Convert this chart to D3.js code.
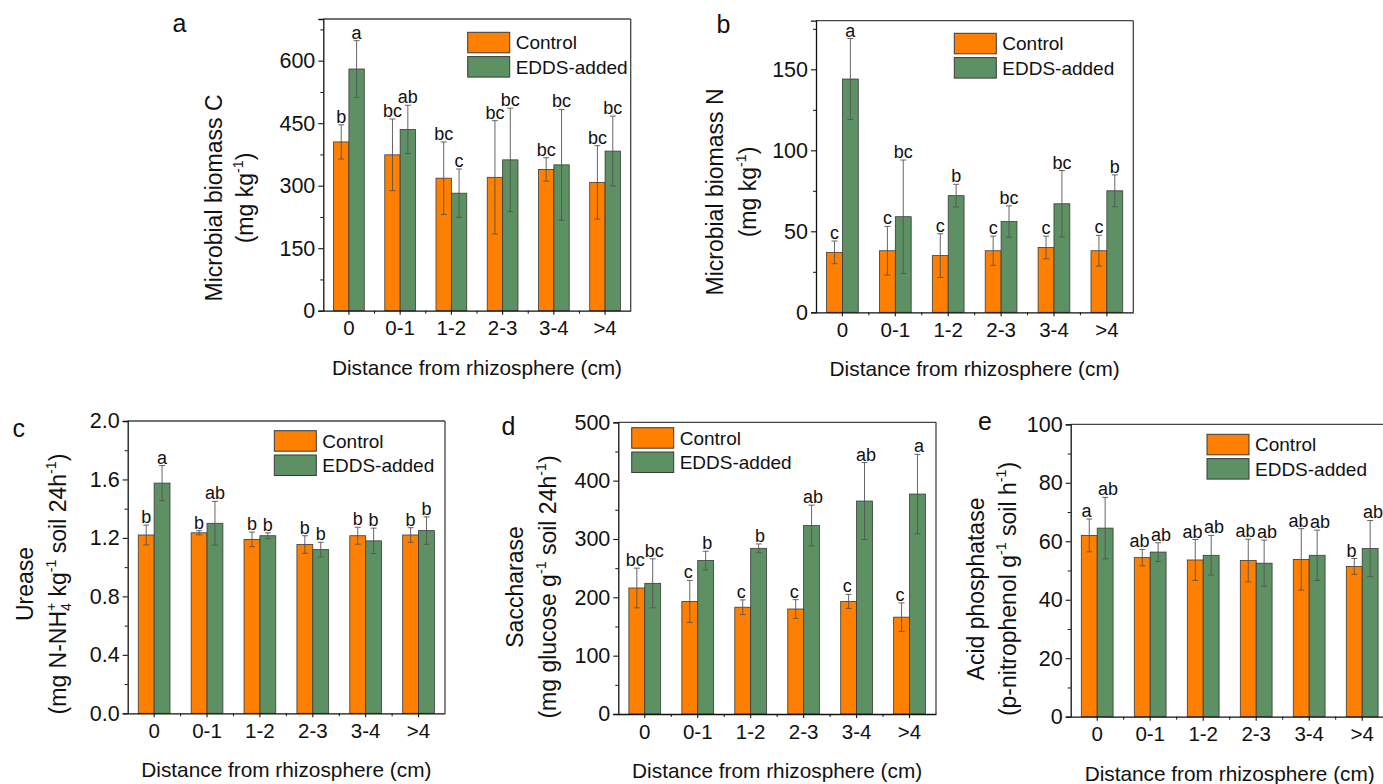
<!DOCTYPE html>
<html>
<head>
<meta charset="utf-8">
<script src="https://cdn.jsdelivr.net/npm/d3@7"></script>
<style>
  html, body { margin: 0; padding: 0; background: #fff; }
  svg { display: block; font-family: "Liberation Sans", Arial, sans-serif; }
</style>
</head>
<body>
<svg id="chart" width="1383" height="784"></svg>
<script>
// ---------- data ----------
const categories = ["0", "0-1", "1-2", "2-3", "3-4", ">4"];
const seriesNames = ["Control", "EDDS-added"];

// a: Microbial biomass C
const mbcControl    = [405, 374, 318, 320, 339, 308];
const mbcControlErr = [41, 86, 87, 136, 28, 88];
const mbcEdds       = [580, 435, 282, 362, 350, 383];
const mbcEddsErr    = [68, 58, 58, 124, 133, 84];
const mbcControlLetters = ["b", "bc", "bc", "bc", "bc", "bc"];
const mbcEddsLetters    = ["a", "ab", "c", "bc", "bc", "bc"];
const mbcTicks = [0, 150, 300, 450, 600];

// b: Microbial biomass N
const mbnControl    = [37, 38, 35, 38, 40, 38];
const mbnControlErr = [7, 15, 13.5, 9, 7, 9.5];
const mbnEdds       = [144, 59, 72, 56, 67, 75];
const mbnEddsErr    = [25, 35, 7, 9.7, 20.5, 9.8];
const mbnControlLetters = ["c", "c", "c", "c", "c", "c"];
const mbnEddsLetters    = ["a", "bc", "b", "bc", "bc", "b"];
const mbnTicks = [0, 50, 100, 150];

// c: Urease
const ureControl    = [1.22, 1.235, 1.19, 1.155, 1.215, 1.22];
const ureControlErr = [0.068, 0.014, 0.05, 0.06, 0.058, 0.05];
const ureEdds       = [1.575, 1.30, 1.215, 1.12, 1.18, 1.25];
const ureEddsErr    = [0.12, 0.15, 0.02, 0.05, 0.087, 0.094];
const ureControlLetters = ["b", "b", "b", "b", "b", "b"];
const ureEddsLetters    = ["a", "ab", "b", "b", "b", "b"];
const ureTicks = [0, 0.4, 0.8, 1.2, 1.6, 2.0];

// d: Saccharase
const sacControl    = [216, 193, 183, 180, 193, 166];
const sacControlErr = [34, 36, 12.6, 16, 12, 24.5];
const sacEdds       = [224, 263, 284, 323, 365, 377];
const sacEddsErr    = [42, 16, 7.5, 35, 66, 68];
const sacControlLetters = ["bc", "c", "c", "c", "c", "c"];
const sacEddsLetters    = ["bc", "b", "b", "ab", "ab", "a"];
const sacTicks = [0, 100, 200, 300, 400, 500];

// e: Acid phosphatase
const acpControl    = [62, 54.4, 53.6, 53.4, 53.8, 51.4];
const acpControlErr = [5.6, 2.8, 7, 7.3, 10.5, 2.7];
const acpEdds       = [64.5, 56.3, 55.2, 52.5, 55.2, 57.5];
const acpEddsErr    = [10.5, 3.2, 6.8, 7.9, 8.6, 9.6];
const acpControlLetters = ["a", "ab", "ab", "ab", "ab", "b"];
const acpEddsLetters    = ["ab", "ab", "ab", "ab", "ab", "ab"];
const acpTicks = [0, 20, 40, 60, 80, 100];

const xTitle = "Distance from rhizosphere (cm)";

// ---------- style ----------
const colors = ["#FF7F00", "#5D9062"];
const svg = d3.select("#chart");

function addRotTitle(g, segs, bx, cy, size) {
  const t = g.append("text")
    .attr("transform", `translate(${bx},${cy}) rotate(-90)`)
    .attr("text-anchor", "middle")
    .style("font-size", size + "px")
    .attr("fill", "#111");
  let cur = 0;
  const small = size * 0.62;
  segs.forEach(s => {
    let shift = 0;
    if (s.sup) shift = -size * 0.42;
    if (s.sub) shift = size * 0.22;
    const ts = t.append("tspan").text(s.t).attr("dy", shift - cur);
    if (s.sup || s.sub) ts.style("font-size", small + "px");
    if (s.back) ts.attr("dx", -small * 0.58);
    cur = shift;
  });
}

function drawPanel(p) {
  const g = svg.append("g");
  const x = d3.scaleBand().domain(categories).range([p.L, p.R]).paddingInner(0).paddingOuter(0);
  const y = d3.scaleLinear().domain([0, p.ymax]).range([p.B, p.T]);
  const step = x.step();
  const bw = step * 0.3;
  const nudge = p.nudge || 0;

  const series = [
    { name: seriesNames[0], vals: p.control, errs: p.controlErr, letters: p.controlLetters, off: -bw, color: colors[0], ln: -nudge },
    { name: seriesNames[1], vals: p.edds, errs: p.eddsErr, letters: p.eddsLetters, off: 0, color: colors[1], ln: nudge }
  ];

  series.forEach(s => {
    const rows = categories.map((c, i) => ({ c, v: s.vals[i], e: s.errs[i], l: s.letters[i] }));
    const cx = d => x(d.c) + step / 2 + s.off + bw / 2;
    g.selectAll(null).data(rows).enter().append("rect")
      .attr("x", d => x(d.c) + step / 2 + s.off)
      .attr("y", d => y(d.v))
      .attr("width", bw)
      .attr("height", d => y(0) - y(d.v))
      .attr("fill", s.color)
      .attr("stroke", "#3a3a3a")
      .attr("stroke-width", 0.8);
    // error bars
    g.selectAll(null).data(rows).enter().append("line")
      .attr("x1", cx).attr("x2", cx)
      .attr("y1", d => y(d.v - d.e)).attr("y2", d => y(d.v + d.e))
      .attr("stroke", "#555").attr("stroke-width", 0.9);
    [1, -1].forEach(sg => {
      g.selectAll(null).data(rows).enter().append("line")
        .attr("x1", d => cx(d) - 3).attr("x2", d => cx(d) + 3)
        .attr("y1", d => y(d.v + sg * d.e)).attr("y2", d => y(d.v + sg * d.e))
        .attr("stroke", "#555").attr("stroke-width", 0.9);
    });
    // letters
    g.selectAll(null).data(rows).enter().append("text")
      .attr("x", d => cx(d) + s.ln)
      .attr("y", d => y(d.v + d.e) - 2)
      .attr("text-anchor", "middle")
      .style("font-size", "18px")
      .attr("fill", "#111")
      .text(d => d.l);
  });

  // frame top & right
  g.append("line").attr("x1", p.L).attr("x2", p.R).attr("y1", p.T).attr("y2", p.T)
    .attr("stroke", "#444").attr("stroke-width", 1.3);
  g.append("line").attr("x1", p.R).attr("x2", p.R).attr("y1", p.T).attr("y2", p.B)
    .attr("stroke", "#444").attr("stroke-width", 1.3);

  // y axis
  const minorStep = (p.ticks[1] - p.ticks[0]) / 2;
  const minor = d3.range(0, p.ymax + 1e-9, minorStep).filter(v => !p.ticks.some(t => Math.abs(t - v) < 1e-9));
  const yAxis = g.append("g").attr("transform", `translate(${p.L},0)`)
    .call(d3.axisLeft(y).tickValues(p.ticks).tickSize(5).tickPadding(3).tickFormat(p.fmt));
  yAxis.attr("font-size", null).attr("font-family", null);
  yAxis.select(".domain").attr("stroke", "#111").attr("stroke-width", 1.3);
  yAxis.selectAll(".tick line").attr("stroke", "#111").attr("stroke-width", 1.1);
  yAxis.selectAll(".tick text").style("font-size", "21.5px").attr("fill", "#111");
  const yMinor = g.append("g").attr("transform", `translate(${p.L},0)`)
    .call(d3.axisLeft(y).tickValues(minor).tickSize(3).tickFormat(""));
  yMinor.select(".domain").remove();
  yMinor.selectAll(".tick line").attr("stroke", "#111").attr("stroke-width", 1);

  // x axis
  const xAxis = g.append("g").attr("transform", `translate(0,${p.B})`)
    .call(d3.axisBottom(x).tickSize(4).tickPadding(6).tickSizeOuter(0));
  xAxis.attr("font-size", null).attr("font-family", null);
  xAxis.select(".domain").attr("stroke", "#111").attr("stroke-width", 1.3);
  xAxis.selectAll(".tick line").attr("stroke", "#111").attr("stroke-width", 1.1);
  xAxis.selectAll(".tick text").style("font-size", "20.5px").attr("fill", "#111");
  g.selectAll(null).data(categories.slice(1)).enter().append("line")
    .attr("x1", d => x(d)).attr("x2", d => x(d))
    .attr("y1", p.B).attr("y2", p.B + 3)
    .attr("stroke", "#111").attr("stroke-width", 1);

  // x title
  g.append("text").attr("x", (p.L + p.R) / 2).attr("y", p.B + 64)
    .attr("text-anchor", "middle").style("font-size", "20.8px").attr("fill", "#111").text(xTitle);

  // y titles
  addRotTitle(g, p.title1, p.t1x, p.tcy, 23);
  addRotTitle(g, p.title2, p.t2x, p.tcy, 23);

  // panel letter
  g.append("text").attr("x", p.lx).attr("y", p.ly).style("font-size", "25px").attr("fill", "#111").text(p.letter);

  // legend
  seriesNames.forEach((n, i) => {
    const ly = p.legY + i * 24.3;
    g.append("rect").attr("x", p.legX).attr("y", ly).attr("width", 42).attr("height", 20.5)
      .attr("fill", colors[i]).attr("stroke", "#3a3a3a").attr("stroke-width", 1);
    g.append("text").attr("x", p.legX + 48).attr("y", ly + 10.25).attr("dy", "0.36em")
      .style("font-size", "19px").attr("fill", "#111").text(n);
  });
}

const intFmt = d3.format("d");
const panels = [
  { letter: "a", L: 323.3, R: 630.7, T: 19, B: 310.7, ymax: 700, ticks: mbcTicks, fmt: intFmt,
    control: mbcControl, controlErr: mbcControlErr, edds: mbcEdds, eddsErr: mbcEddsErr,
    controlLetters: mbcControlLetters, eddsLetters: mbcEddsLetters,
    title1: [{ t: "Microbial biomass C" }], title2: [{ t: "(mg kg" }, { t: "-1", sup: true }, { t: ")" }],
    t1x: 222, t2x: 253, tcy: 198, lx: 172.5, ly: 32, legX: 467.7, legY: 32.3 },
  { letter: "b", L: 816, R: 1133.3, T: 20.7, B: 312.3, ymax: 180, ticks: mbnTicks, fmt: intFmt,
    control: mbnControl, controlErr: mbnControlErr, edds: mbnEdds, eddsErr: mbnEddsErr,
    controlLetters: mbnControlLetters, eddsLetters: mbnEddsLetters,
    title1: [{ t: "Microbial biomass N" }], title2: [{ t: "(mg kg" }, { t: "-1", sup: true }, { t: ")" }],
    t1x: 723, t2x: 755.5, tcy: 192, lx: 716.5, ly: 33, legX: 954.3, legY: 33.3 },
  { letter: "c", L: 127.7, R: 445, T: 421, B: 713.3, ymax: 2.0, ticks: ureTicks, fmt: d3.format(".1f"),
    control: ureControl, controlErr: ureControlErr, edds: ureEdds, eddsErr: ureEddsErr,
    controlLetters: ureControlLetters, eddsLetters: ureEddsLetters,
    title1: [{ t: "Urease" }],
    title2: [{ t: "(mg N-NH" }, { t: "+", sup: true }, { t: "4", sub: true, back: true }, { t: " kg" },
             { t: "-1", sup: true }, { t: " soil 24h" }, { t: "-1", sup: true }, { t: ")" }],
    t1x: 33, t2x: 65.5, tcy: 584, lx: 12.5, ly: 436.5, legX: 274.3, legY: 430.7 },
  { letter: "d", L: 618.3, R: 936, T: 422.3, B: 714, ymax: 500, ticks: sacTicks, fmt: intFmt,
    control: sacControl, controlErr: sacControlErr, edds: sacEdds, eddsErr: sacEddsErr,
    controlLetters: sacControlLetters, eddsLetters: sacEddsLetters, nudge: 1.5,
    title1: [{ t: "Saccharase" }],
    title2: [{ t: "(mg glucose g" }, { t: "-1", sup: true }, { t: " soil 24h" }, { t: "-1", sup: true }, { t: ")" }],
    t1x: 523, t2x: 555.5, tcy: 587, lx: 501.5, ly: 435, legX: 631.7, legY: 427.7 },
  { letter: "e", L: 1070.7, R: 1388.7, T: 424.3, B: 716.7, ymax: 100, ticks: acpTicks, fmt: intFmt,
    control: acpControl, controlErr: acpControlErr, edds: acpEdds, eddsErr: acpEddsErr,
    controlLetters: acpControlLetters, eddsLetters: acpEddsLetters, nudge: 2.8,
    title1: [{ t: "Acid phosphatase" }],
    title2: [{ t: "(p-nitrophenol g" }, { t: "-1", sup: true }, { t: " soil h" }, { t: "-1", sup: true }, { t: ")" }],
    t1x: 984, t2x: 1015.5, tcy: 589, lx: 978, ly: 430, legX: 1207, legY: 434.3 }
];

panels.forEach(drawPanel);
</script>
</body>
</html>
